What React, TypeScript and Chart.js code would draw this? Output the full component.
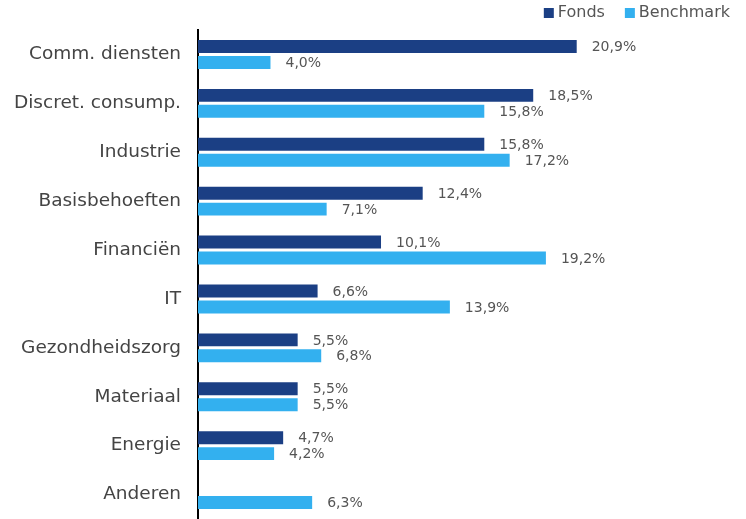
import React, { useEffect, useRef } from "react";
import { Chart, registerables } from "chart.js";

Chart.register(...registerables);

const categories = [
  "Comm. diensten",
  "Discret. consump.",
  "Industrie",
  "Basisbehoeften",
  "Financiën",
  "IT",
  "Gezondheidszorg",
  "Materiaal",
  "Energie",
  "Anderen",
];
const fonds: (number | null)[] = [20.9, 18.5, 15.8, 12.4, 10.1, 6.6, 5.5, 5.5, 4.7, null];
const benchmark: (number | null)[] = [4.0, 15.8, 17.2, 7.1, 19.2, 13.9, 6.8, 5.5, 4.2, 6.3];

const FONT = "'DejaVu Sans', sans-serif";
const DARK = "#1b3f84";
const LIGHT = "#33b0ef";

const valueLabels = {
  id: "valueLabels",
  afterDatasetsDraw(chart: any) {
    const ctx = chart.ctx;
    ctx.save();
    ctx.font = `14px ${FONT}`;
    ctx.fillStyle = "#555555";
    ctx.textAlign = "left";
    ctx.textBaseline = "middle";
    chart.data.datasets.forEach((ds: any, i: number) => {
      const meta = chart.getDatasetMeta(i);
      meta.data.forEach((bar: any, j: number) => {
        const v = ds.data[j];
        if (v === null || v === undefined) return;
        const txt = v.toFixed(1).replace(".", ",") + "%";
        ctx.fillText(txt, bar.x + 15, bar.y + 1);
      });
    });
    ctx.restore();
  },
};

const customLegend = {
  id: "customLegend",
  afterDraw(chart: any) {
    const ctx = chart.ctx;
    ctx.save();
    ctx.font = `16px ${FONT}`;
    ctx.textBaseline = "middle";
    ctx.textAlign = "left";
    const items = chart.data.datasets.map((d: any) => ({ label: d.label, color: d.backgroundColor }));
    const box = 10;
    const gapBoxText = 4;
    const gapItems = 20;
    let x = chart.width - 16;
    const y = 13;
    for (let i = items.length - 1; i >= 0; i--) {
      const w = ctx.measureText(items[i].label).width;
      x -= w;
      ctx.fillStyle = "#555555";
      ctx.fillText(items[i].label, x, y);
      x -= gapBoxText + box;
      ctx.fillStyle = items[i].color;
      ctx.fillRect(x, y - box / 2, box, box);
      x -= gapItems;
    }
    ctx.restore();
  },
};

export default function App() {
  const ref = useRef<HTMLCanvasElement>(null);
  useEffect(() => {
    document.body.style.margin = "0";
    const chart = new Chart(ref.current!, {
      type: "bar",
      data: {
        labels: categories,
        datasets: [
          {
            label: "Fonds",
            data: fonds,
            backgroundColor: DARK,
            categoryPercentage: 0.653,
            barPercentage: 0.8125,
          },
          {
            label: "Benchmark",
            data: benchmark,
            backgroundColor: LIGHT,
            categoryPercentage: 0.653,
            barPercentage: 0.8125,
          },
        ],
      },
      options: {
        indexAxis: "y",
        animation: false,
        responsive: false,
        maintainAspectRatio: false,
        layout: { padding: { left: 0, right: 95, top: 30, bottom: 0 } },
        plugins: {
          legend: { display: false },
          tooltip: { enabled: false },
        },
        scales: {
          x: {
            display: false,
            min: 0,
            max: 25,
          },
          y: {
            grid: { display: false, drawTicks: false },
            border: { display: true, color: "#000000", width: 2 },
            ticks: {
              color: "#444444",
              padding: 17,
              font: { family: FONT, size: 18.5 },
            },
            afterFit: (s: any) => {
              s.width = 198;
              s.paddingTop = 0;
              s.paddingBottom = 0;
            },
          },
        },
      },
      plugins: [valueLabels, customLegend],
    });
    return () => chart.destroy();
  }, []);
  return <canvas ref={ref} width={746} height={519} style={{ display: "block" }} />;
}
